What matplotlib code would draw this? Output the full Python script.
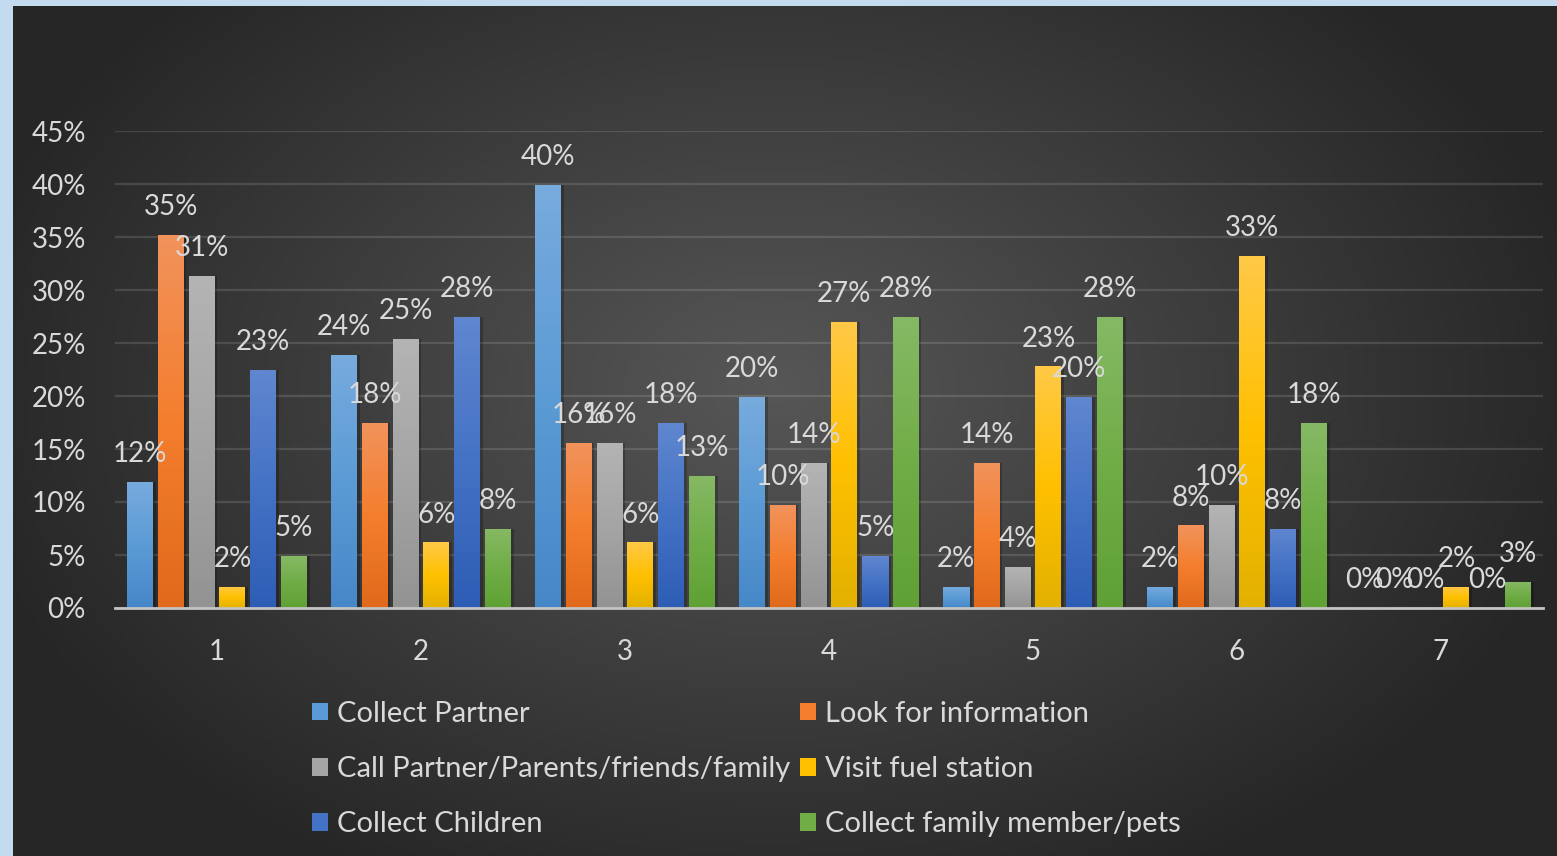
import matplotlib.pyplot as plt
import numpy as np
from matplotlib.colors import LinearSegmentedColormap
from matplotlib.patches import Patch

plt.rcParams['font.family'] = ['Lato', 'DejaVu Sans']

categories = [1, 2, 3, 4, 5, 6, 7]
series_names = ["Collect Partner", "Look for information",
                "Call Partner/Parents/friends/family", "Visit fuel station",
                "Collect Children", "Collect family member/pets"]

# share of respondents in percent, one value per category
collect_partner  = [11.9, 23.9, 39.9, 19.9,  2.0,  2.0, 0.0]
look_for_info    = [35.2, 17.5, 15.6,  9.7, 13.7,  7.8, 0.0]
call_family      = [31.3, 25.4, 15.6, 13.7,  3.9,  9.7, 0.0]
visit_fuel       = [ 2.0,  6.2,  6.2, 27.0, 22.8, 33.2, 2.0]
collect_children = [22.5, 27.5, 17.5,  4.9, 19.9,  7.5, 0.0]
collect_family   = [ 4.9,  7.5, 12.5, 27.5, 27.5, 17.5, 2.5]

series = [collect_partner, look_for_info, call_family,
          visit_fuel, collect_children, collect_family]

# (top, middle, bottom) colours of each bar's gradient fill
fills = [("#78abde", "#5b9bd5", "#4687c8"),
         ("#f1935c", "#f47e2e", "#e0691b"),
         ("#b4b4b4", "#a5a5a5", "#939393"),
         ("#ffc947", "#ffc000", "#e3b100"),
         ("#6087d0", "#4472c4", "#2e5db6"),
         ("#86b965", "#70ad47", "#5fa134")]
base_colors = [f[1] for f in fills]

W, H = 1557, 856
fig = plt.figure(figsize=(W / 100, H / 100), dpi=100)
fig.patch.set_facecolor("#c3daef")

# chart area with a radial gradient
bg = fig.add_axes([13 / W, 0, 1 - 13 / W, 1 - 6 / H])
bg.set_axis_off()
gx, gy = np.meshgrid(np.linspace(0, 1544, 400), np.linspace(0, 850, 220))
r = np.sqrt(((gx - 760) / 830) ** 2 + ((gy - 380) / 560) ** 2)
r = np.clip(r, 0, 1)
shade = 0.34 - (0.34 - 0.15) * r
bg.imshow(np.dstack([shade, shade, shade]), aspect="auto", extent=[0, 1, 0, 1])
bg.set_xlim(0, 1)
bg.set_ylim(0, 1)

ax = fig.add_axes([115 / W, (H - 608) / H, (1543 - 115) / W, (608 - 131) / H])
ax.patch.set_alpha(0)

x = np.arange(len(categories)) + 1
pitch = 30.8 / 204
width = 26 / 204
grad = np.linspace(1, 0, 256).reshape(-1, 1)

for i, vals in enumerate(series):
    xs = x + (i - 2.5) * pitch
    cmap = LinearSegmentedColormap.from_list(
        "fill%d" % i, [fills[i][2], fills[i][1], fills[i][0]])
    # soft shadow
    ax.bar(xs + 2.5 / 204, vals, width, bottom=0, color="black",
           alpha=0.22, zorder=2, linewidth=0)
    bars = ax.bar(xs, vals, width, color="none", linewidth=0, zorder=3)
    for patch, v in zip(bars, vals):
        if v > 0:
            im = ax.imshow(grad, cmap=cmap, vmin=0, vmax=1, aspect="auto",
                           extent=[patch.get_x(), patch.get_x() + width, 0, v],
                           zorder=3)
            im.set_clip_path(patch)
        ax.annotate("%d%%" % int(v + 0.5), (patch.get_x() + width / 2, v),
                    xytext=(0, 20), textcoords="offset points",
                    ha="center", va="center", fontsize=20, color="#d9d9d9",
                    zorder=5)

ax.set_xlim(0.5, 7.5)
ax.set_ylim(0, 45)
ax.set_yticks(range(0, 46, 5))
ax.set_yticklabels(["%d%%" % t for t in range(0, 46, 5)])
ax.set_xticks(x)
ax.set_xticklabels([str(c) for c in categories])
ax.tick_params(axis="both", length=0, labelsize=20, colors="#d9d9d9")
ax.tick_params(axis="y", pad=21)
ax.tick_params(axis="x", pad=22)
ax.grid(axis="y", color="#ffffff", alpha=0.13, linewidth=1.6, zorder=1)
ax.set_axisbelow(True)
for side in ["top", "right", "left"]:
    ax.spines[side].set_visible(False)
ax.spines["bottom"].set_color("#c4c4c4")
ax.spines["bottom"].set_linewidth(2)
ax.spines["bottom"].set_zorder(4)

handles = [Patch(facecolor=c, edgecolor="none") for c in base_colors]
order = [0, 2, 4, 1, 3, 5]
fig.legend([handles[k] for k in order], [series_names[k] for k in order],
           ncol=2, loc="upper left", bbox_to_anchor=(312 / W, 1 - 701 / H),
           frameon=False, fontsize=21, labelcolor="#d9d9d9",
           borderpad=0, borderaxespad=0, handlelength=0.55, handleheight=0.55,
           handletextpad=0.31, columnspacing=0.34, labelspacing=1.0)

fig.savefig("out.png", dpi=100, facecolor=fig.get_facecolor())
